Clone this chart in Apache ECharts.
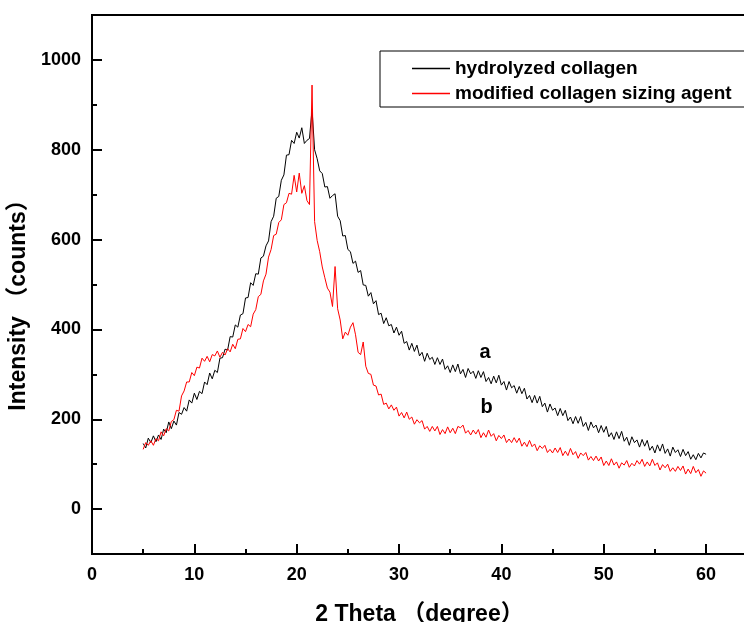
<!DOCTYPE html>
<html>
<head>
<meta charset="utf-8">
<script src="https://cdn.jsdelivr.net/npm/echarts@6/dist/echarts.min.js"></script>
<style>
html,body{margin:0;padding:0;background:#fff;}
#chart{width:744px;height:622px;}
</style>
</head>
<body>
<div id="chart"></div>
<script>
// 2-theta sampling grid (degrees)
const thetaStart = 5;
const thetaStep = 0.25;

// hydrolyzed collagen (a), counts at 5.00, 5.25, ... 60.00
const hydrolyzed = [
146,136,158,148, 163,150,165,155, 178,170,194,179, 196,187,215,211, 226,218,243,236,
258,244,262,257, 283,277,303,290, 309,304,336,337, 356,354,384,383, 410,405,432,435,
470,471,504,498, 524,523,559,563, 586,597,640,652, 692,696,732,744, 788,789,821,814,
839,826,849,814, 821,825,890,800, 780,753,747,717, 718,692,698,702, 652,642,608,609,
578,573,547,552, 527,531,499,498, 474,482,457,464, 433,436,413,426, 408,411,392,405,
387,396,369,373, 354,369,351,365, 341,349,329,347, 333,338,322,337, 322,334,311,319,
304,321,306,323, 301,311,293,313, 301,307,291,308, 293,306,284,293, 279,296,281,298,
276,284,265,284, 270,275,258,273, 257,269,245,253, 237,253,236,251, 228,236,216,234,
220,225,208,224, 208,220,197,205, 190,206,191,206, 184,193,175,194, 181,187,170,186,
171,184,161,170, 155,172,157,173, 151,160,142,161, 148,154,138,155, 140,153,131,140,
125,143,129,145, 124,134,118,138, 126,132,117,133, 119,128,111,121, 110,124,114,125,
122
];

// modified collagen sizing agent (b), counts at 5.00, 5.25, ... 60.00
const modified = [
133,148,142,152, 142,157,152,172, 163,179,174,195, 199,220,218,252, 263,283,283,304,
297,316,314,336, 329,340,328,344, 341,352,338,349, 343,357,350,367, 357,378,379,402,
395,411,406,434, 444,473,478,508, 523,561,578,609, 612,638,644,678, 682,703,701,743,
706,748,703,720, 687,678,944,640, 598,573,539,515, 492,483,451,540, 446,421,379,394,
387,405,415,388, 349,344,372,318, 302,300,276,274, 254,256,233,236, 223,232,220,227,
207,215,203,216, 200,205,189,199, 192,197,178,184, 173,184,174,184, 166,177,168,183,
170,180,168,184, 181,187,169,175, 165,176,167,177, 159,170,160,176, 162,168,152,164,
157,165,148,156, 148,159,148,158, 140,149,139,153, 139,145,130,141, 135,142,126,133,
125,136,126,137, 119,129,119,135, 121,128,113,125, 119,126,109,117, 108,118,107,116,
97,107,97,112, 98,105,91,103, 98,108,93,102, 96,108,100,111, 95,105,96,111,
97,103,87,99, 92,100,84,92, 84,95,86,96, 78,89,79,95, 81,88,73,85,
80
];

const seriesNames = ['hydrolyzed collagen', 'modified collagen sizing agent'];
const xMajorTicks = [0, 10, 20, 30, 40, 50, 60];
const xMinorTicks = [5, 15, 25, 35, 45, 55];
const yMajorTicks = [0, 200, 400, 600, 800, 1000];
const yMinorTicks = [100, 300, 500, 700, 900];
const annotLabels = ['a', 'b'];
const annotX = [38.4, 38.55];
const annotY = [348, 227];

const toPairs = arr => arr.map((v, i) => [thetaStart + i * thetaStep, v]);

const FONT = '"Liberation Sans", Arial, "Noto Sans CJK SC", sans-serif';
const chart = echarts.init(document.getElementById('chart'), null, {renderer: 'canvas'});

const axisLineStyle = {color: '#000', width: 2};
chart.setOption({
  animation: false,
  backgroundColor: '#fff',
  grid: {left: 92, right: -3, top: 15, bottom: 68, containLabel: false, outerBoundsMode: 'none',
         show: true, borderColor: '#000', borderWidth: 2, backgroundColor: 'transparent'},
  legend: {
    data: seriesNames,
    orient: 'vertical',
    left: 380, top: 51,
    borderColor: '#000', borderWidth: 1,
    padding: [8, 30, 4, 32],
    itemGap: 6, itemWidth: 38, itemHeight: 1.5,
    icon: 'rect',
    textStyle: {fontFamily: FONT, fontWeight: 'bold', fontSize: 19, color: '#000'}
  },
  xAxis: [{
    type: 'value', min: 0, max: 64, position: 'bottom',
    axisLine: {show: true, onZero: false, lineStyle: axisLineStyle},
    axisTick: {show: true, inside: true, length: 10, lineStyle: {color: '#000', width: 2}, customValues: xMajorTicks},
    axisLabel: {show: true, customValues: xMajorTicks, margin: 12, formatter: v => String(v),
                fontFamily: FONT, fontWeight: 'bold', fontSize: 18, color: '#000'},
    splitLine: {show: false},
    name: '2 Theta （degree）', nameLocation: 'middle', nameGap: 49,
    nameTextStyle: {fontFamily: FONT, fontWeight: 'bold', fontSize: 23, color: '#000'}
  }, {
    type: 'value', min: 0, max: 64, position: 'bottom',
    axisLine: {show: false, onZero: false},
    axisTick: {show: true, inside: true, length: 5, lineStyle: {color: '#000', width: 2}, customValues: xMinorTicks},
    axisLabel: {show: false},
    splitLine: {show: false}
  }],
  yAxis: [{
    type: 'value', min: -100, max: 1100, position: 'left',
    axisLine: {show: true, onZero: false, lineStyle: axisLineStyle},
    axisTick: {show: true, inside: true, length: 10, lineStyle: {color: '#000', width: 2}, customValues: yMajorTicks},
    axisLabel: {show: true, customValues: yMajorTicks, margin: 11, formatter: v => String(v),
                fontFamily: FONT, fontWeight: 'bold', fontSize: 18, color: '#000'},
    splitLine: {show: false},
    name: 'Intensity （counts）', nameLocation: 'middle', nameGap: 62, nameRotate: 90,
    nameTextStyle: {fontFamily: FONT, fontWeight: 'bold', fontSize: 23, color: '#000', padding: [0, 30, 0, 0]}
  }, {
    type: 'value', min: -100, max: 1100, position: 'left',
    axisLine: {show: false, onZero: false},
    axisTick: {show: true, inside: true, length: 5, lineStyle: {color: '#000', width: 2}, customValues: yMinorTicks},
    axisLabel: {show: false},
    splitLine: {show: false}
  }],
  series: [{
    name: seriesNames[0], type: 'line', xAxisIndex: 0, yAxisIndex: 0,
    data: toPairs(hydrolyzed), symbol: 'none', showSymbol: false,
    lineStyle: {color: '#000', width: 1}, itemStyle: {color: '#000'},
    markPoint: {
      symbol: 'circle', symbolSize: 1, itemStyle: {color: 'rgba(0,0,0,0)'},
      label: {show: true, position: 'inside', formatter: p => p.name, fontFamily: FONT, fontWeight: 'bold', fontSize: 20, color: '#000'},
      data: annotLabels.map((t, i) => ({name: t, coord: [annotX[i], annotY[i]]}))
    }
  }, {
    name: seriesNames[1], type: 'line', xAxisIndex: 0, yAxisIndex: 0,
    data: toPairs(modified), symbol: 'none', showSymbol: false,
    lineStyle: {color: '#ff0000', width: 1}, itemStyle: {color: '#ff0000'}
  }]
});
</script>
</body>
</html>
